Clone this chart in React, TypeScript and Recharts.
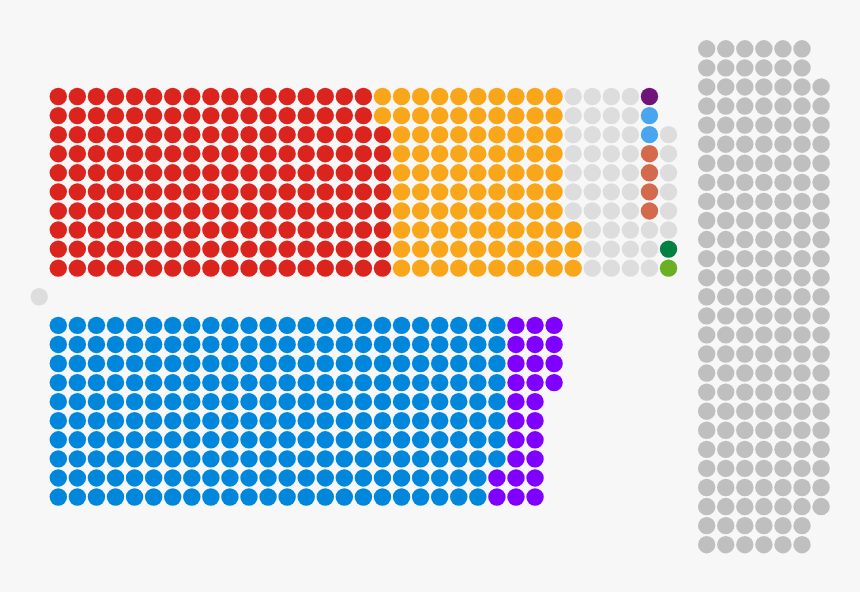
import React from 'react';
import { ScatterChart, Scatter, XAxis, YAxis } from 'recharts';

// Bench layout of the House (top to bottom)
const oppositionRows: [string, number][][] = [
  [['Labour', 17], ['Liberal Democrat', 10], ['Non-affiliated', 4], ['UKIP', 1]],
  [['Labour', 17], ['Liberal Democrat', 10], ['Non-affiliated', 4], ['UUP', 1]],
  [['Labour', 18], ['Liberal Democrat', 9], ['Non-affiliated', 4], ['UUP', 1], ['Non-affiliated', 1]],
  [['Labour', 18], ['Liberal Democrat', 9], ['Non-affiliated', 4], ['DUP', 1], ['Non-affiliated', 1]],
  [['Labour', 18], ['Liberal Democrat', 9], ['Non-affiliated', 4], ['DUP', 1], ['Non-affiliated', 1]],
  [['Labour', 18], ['Liberal Democrat', 9], ['Non-affiliated', 4], ['DUP', 1], ['Non-affiliated', 1]],
  [['Labour', 18], ['Liberal Democrat', 9], ['Non-affiliated', 4], ['DUP', 1], ['Non-affiliated', 1]],
  [['Labour', 18], ['Liberal Democrat', 10], ['Non-affiliated', 5]],
  [['Labour', 18], ['Liberal Democrat', 10], ['Non-affiliated', 4], ['Plaid Cymru', 1]],
  [['Labour', 18], ['Liberal Democrat', 10], ['Non-affiliated', 4], ['Green', 1]],
];

const governmentRows: [string, number][][] = [
  [['Conservative', 24], ['Lords Spiritual', 3]],
  [['Conservative', 24], ['Lords Spiritual', 3]],
  [['Conservative', 24], ['Lords Spiritual', 3]],
  [['Conservative', 24], ['Lords Spiritual', 3]],
  [['Conservative', 24], ['Lords Spiritual', 2]],
  [['Conservative', 24], ['Lords Spiritual', 2]],
  [['Conservative', 24], ['Lords Spiritual', 2]],
  [['Conservative', 24], ['Lords Spiritual', 2]],
  [['Conservative', 23], ['Lords Spiritual', 3]],
  [['Conservative', 23], ['Lords Spiritual', 3]],
];

// crossbench seats per row, top to bottom
const crossbenchRows = [6, 6, 7, 7, 7, 7, 7, 7, 7, 7, 7, 7, 7, 7, 7, 7, 7, 7, 7, 7, 7, 7, 7, 7, 7, 6, 6];

const partyOrder = [
  'Conservative', 'Lords Spiritual', 'Labour', 'Liberal Democrat', 'Non-affiliated',
  'UKIP', 'UUP', 'DUP', 'Plaid Cymru', 'Green', 'Crossbench', 'Lord Speaker',
];

const partyColors: Record<string, string> = {
  'Conservative': '#0087dc',
  'Lords Spiritual': '#8000ff',
  'Labour': '#dc241f',
  'Liberal Democrat': '#faa61a',
  'Non-affiliated': '#dddddd',
  'UKIP': '#70147a',
  'UUP': '#48a5ee',
  'DUP': '#d46a4c',
  'Plaid Cymru': '#008142',
  'Green': '#6ab023',
  'Crossbench': '#bfbfbf',
  'Lord Speaker': '#dddddd',
};

type Seat = { x: number; y: number };

// turn the bench rows into seat coordinates (grid units, y up, speaker at 0,0)
const buildSeats = () => {
  const seats: Record<string, Seat[]> = {};
  partyOrder.forEach((p) => (seats[p] = []));

  oppositionRows.forEach((row, r) => {
    let col = 0;
    row.forEach(([party, n]) => {
      for (let i = 0; i < n; i++) seats[party].push({ x: col++, y: 10.5 - r });
    });
  });

  governmentRows.forEach((row, r) => {
    let col = 0;
    row.forEach(([party, n]) => {
      for (let i = 0; i < n; i++) seats[party].push({ x: col++, y: -1.5 - r });
    });
  });

  crossbenchRows.forEach((n, r) => {
    for (let i = 0; i < n; i++) seats['Crossbench'].push({ x: 34 + i, y: 13 - r });
  });

  seats['Lord Speaker'].push({ x: -1, y: 0 });
  return seats;
};

const seats = buildSeats();

const SeatDot = (color: string) => (props: any) => (
  <circle cx={props.cx} cy={props.cy} r={8.7} fill={color} />
);

export default function App() {
  return (
    <div style={{ position: 'fixed', left: 0, top: 0, width: 860, height: 592, background: '#f7f7f7' }}>
      <ScatterChart width={860} height={592} margin={{ top: 0, right: 0, bottom: 0, left: 0 }}>
        <XAxis type="number" dataKey="x" domain={[-3.057, 42.04]} allowDataOverflow hide />
        <YAxis type="number" dataKey="y" domain={[-15.48, 15.56]} allowDataOverflow hide />
        {partyOrder.map((p) => (
          <Scatter
            key={p}
            name={p}
            data={seats[p]}
            shape={SeatDot(partyColors[p])}
            isAnimationActive={false}
          />
        ))}
      </ScatterChart>
    </div>
  );
}
